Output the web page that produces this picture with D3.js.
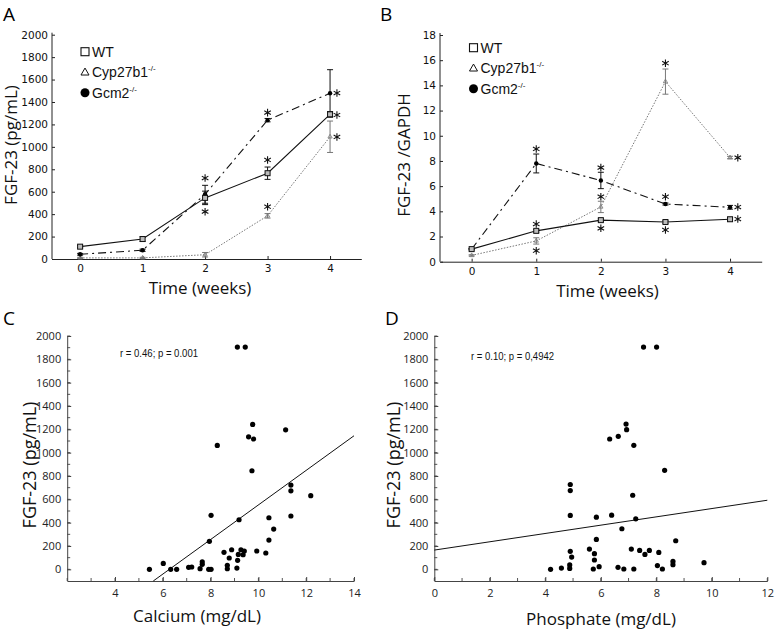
<!DOCTYPE html>
<html><head><meta charset="utf-8">
<script src="https://cdn.jsdelivr.net/npm/d3@7"></script>
<style>body{margin:0;background:#fff}</style>
</head><body><svg id="c" width="777" height="630"></svg>
<script>
// ---------- DATA ----------
const weeks = [0, 1, 2, 3, 4];
const legendNames = ["WT", "Cyp27b1", "Gcm2"];

// Panel A: FGF-23 (pg/mL)
const aWT   = [110, 178, 545, 765, 1290];
const aWTe  = [10, 20, 60, 55, 25];
const aCyp  = [10, 10, 38, 385, 1090];
const aCype = [5, 5, 20, 20, 140];
const aGcm  = [42, 78, 577, 1238, 1478];
const aGcme = [8, 10, 80, 15, 210];
const aStars = [[2, 722], [2, 422], [3, 883], [3, 466], [3, 1305], [4.11, 1480], [4.11, 1284], [4.11, 1088]];
const aYTicks = [0, 200, 400, 600, 800, 1000, 1200, 1400, 1600, 1800, 2000];

// Panel B: FGF-23 / GAPDH
const bWT   = [1.0, 2.45, 3.3, 3.15, 3.37];
const bWTe  = [0.05, 0.1, 0.1, 0.1, 0.15];
const bCyp  = [0.5, 1.65, 4.35, 14.3, 8.27];
const bCype = [0.05, 0.25, 0.45, 1.0, 0.1];
const bGcm  = [1.0, 7.8, 6.45, 4.58, 4.32];
const bGcme = [0.05, 0.75, 0.65, 0.08, 0.15];
const bStars = [[1, 8.95], [1, 2.99], [1, 0.87], [2, 7.47], [2, 5.16], [2, 2.65], [3, 15.76], [3, 5.16], [3, 2.52], [4.12, 8.26], [4.12, 4.34], [4.12, 3.39]];
const bYTicks = [0, 2, 4, 6, 8, 10, 12, 14, 16, 18];

// Panel C: Calcium vs FGF-23
const calcium = [5.44, 6.02, 6.33, 6.58, 7.08, 7.21, 7.56, 7.65, 7.65, 7.92, 8.02, 7.95, 8.02, 9.19, 8.56, 8.88, 8.78, 8.70, 8.70, 9.10, 9.13, 9.16, 9.27, 9.36, 9.41, 9.93, 10.31, 10.44, 10.64, 10.44, 11.36,
                 9.12, 9.45, 9.76, 11.14, 9.59, 9.80, 8.28, 9.73, 11.36, 11.36, 12.19];
const fgfC    = [0, 51, 0, 0, 17, 20, 6, 43, 65, 0, 0, 240, 463, 425, 146, 168, 97, 34, 5, 11, 77, 128, 168, 125, 157, 157, 140, 251, 345, 442, 457,
                 1905, 1905, 1242, 1196, 1136, 1117, 1062, 845, 722, 673, 631];
const regC = [148.2, -930];          // slope, intercept
const cXTicks = [4, 6, 8, 10, 12, 14];
const cYTicks = [0, 200, 400, 600, 800, 1000, 1200, 1400, 1600, 1800, 2000];
const cText = "r = 0.46; p = 0.001";

// Panel D: Phosphate vs FGF-23
const phosphate = [4.19, 4.58, 4.88, 4.88, 4.90, 4.95, 4.90, 5.59, 5.77, 5.77, 5.73, 5.84, 5.84, 5.94, 6.39, 6.62, 6.76, 6.83, 7.10, 7.19, 7.26, 7.40, 7.59, 7.75, 8.09, 8.04, 8.22, 8.60, 8.60, 8.70, 9.72,
                   7.54, 8.01, 6.91, 6.93, 6.63, 6.32, 7.19, 8.30, 4.90, 4.90, 7.15];
const fgfD      = [0, 11, 8, 38, 154, 105, 462, 174, 134, 80, 3, 256, 447, 23, 464, 17, 348, 3, 174, 3, 433, 162, 128, 162, 145, 32, 3, 68, 40, 245, 57,
                   1905, 1905, 1245, 1197, 1140, 1117, 1063, 849, 727, 675, 635];
const regD = [35.6, 165];
const dXTicks = [0, 2, 4, 6, 8, 10, 12];
const dYTicks = cYTicks;
const dText = "r = 0.10; p = 0,4942";

// ---------- DRAW ----------
const svg = d3.select("#c");
const LBL = "'Open Sans', sans-serif";
const TICK = "'DejaVu Sans', sans-serif";
const ARIAL = "'Liberation Sans', Arial, sans-serif";

function panelLetter(t, x, y) {
  svg.append("text").attr("x", x).attr("y", y).text(t)
    .attr("font-family", LBL).attr("font-size", 19).attr("fill", "#000");
}

function linePanel(o) {
  const g = svg.append("g");
  const x = d3.scaleLinear().domain(o.xd).range(o.xr);
  const y = d3.scaleLinear().domain(o.yd).range(o.yr);
  const xa = d3.axisBottom(x).tickValues(weeks).tickSizeInner(-3).tickSizeOuter(0).tickPadding(o.xpad).tickFormat(d3.format("d"));
  const ya = d3.axisLeft(y).tickValues(o.yticks).tickSizeInner(-3).tickSizeOuter(0).tickPadding(4).tickFormat(d3.format("d"));
  const gx = g.append("g").attr("transform", `translate(0,${o.yr[0]})`).call(xa);
  const gy = g.append("g").attr("transform", `translate(${o.xr[0]},0)`).call(ya);
  [gx, gy].forEach(a => {
    a.selectAll("text").attr("font-family", TICK).attr("font-size", 10.5).attr("fill", "#111");
    a.selectAll("line,path").attr("stroke", "#222").attr("stroke-width", 1);
  });
  gy.select(".domain").attr("d", `M0,${o.yr[0]}V${o.yr[1] - 2}`);
  const series = [
    {v: o.cyp, e: o.cype, stroke: "#777", dash: "1.5,1.5", mark: "tri"},
    {v: o.gcm, e: o.gcme, stroke: "#111", dash: "8,4,2,4", mark: "circ"},
    {v: o.wt,  e: o.wte,  stroke: "#111", dash: null, mark: "sq"}
  ];
  const line = d3.line().x((d, i) => x(weeks[i])).y(d => y(d));
  series.forEach(s => {
    g.append("path").attr("d", line(s.v)).attr("fill", "none").attr("stroke", s.stroke)
      .attr("stroke-width", s.mark === "tri" ? 1 : 1.1).attr("stroke-dasharray", s.dash);
    s.v.forEach((v, i) => {
      const cx = x(weeks[i]), y1 = y(v + s.e[i]), y2 = y(v - s.e[i]);
      g.append("line").attr("x1", cx).attr("x2", cx).attr("y1", y1).attr("y2", y2).attr("stroke", s.stroke).attr("stroke-width", 1);
      [y1, y2].forEach(yy => g.append("line").attr("x1", cx - 3).attr("x2", cx + 3).attr("y1", yy).attr("y2", yy).attr("stroke", s.stroke).attr("stroke-width", 1));
    });
    s.v.forEach((v, i) => {
      const cx = x(weeks[i]), cy = y(v);
      if (s.mark === "sq") g.append("rect").attr("x", cx - 2.5).attr("y", cy - 2.5).attr("width", 5).attr("height", 5).attr("fill", "#bbb").attr("stroke", "#111").attr("stroke-width", 1);
      else if (s.mark === "circ") g.append("circle").attr("cx", cx).attr("cy", cy).attr("r", 2.2).attr("fill", "#000");
      else g.append("path").attr("transform", `translate(${cx},${cy})`).attr("d", d3.symbol(d3.symbolTriangle, 8)()).attr("fill", "none").attr("stroke", "#777").attr("stroke-width", 0.8);
    });
  });
  o.stars.forEach(s => {
    g.append("path").attr("transform", `translate(${x(s[0])},${y(s[1])})`)
      .attr("d", d3.symbol(d3.symbolAsterisk, 40)()).attr("fill", "none").attr("stroke", "#111").attr("stroke-width", 1.1);
  });
  legendNames.forEach((n, i) => {
    const ly = o.leg[1] + i * 20.5;
    const lx = o.leg[0];
    if (i === 0) g.append("rect").attr("x", lx - 4).attr("y", ly - 4).attr("width", 8).attr("height", 8).attr("fill", "#fff").attr("stroke", "#111").attr("stroke-width", 1.1);
    else if (i === 1) g.append("path").attr("transform", `translate(${lx},${ly + 0.5})`).attr("d", d3.symbol(d3.symbolTriangle, 28)()).attr("fill", "#fff").attr("stroke", "#111").attr("stroke-width", 1);
    else g.append("circle").attr("cx", lx).attr("cy", ly).attr("r", 4.5).attr("fill", "#000");
    const t = g.append("text").attr("x", lx + 7).attr("y", ly + 5).attr("font-family", ARIAL).attr("font-size", 14).attr("fill", "#111").text(n);
    if (i > 0) t.append("tspan").attr("dy", -6).attr("font-size", 8).text("-/-");
  });
  g.append("text").attr("x", o.xlab[0]).attr("y", o.xlab[1]).attr("text-anchor", "middle")
    .attr("font-family", LBL).attr("font-size", 17).attr("fill", "#111").text("Time (weeks)");
  g.append("text").attr("transform", `translate(${o.ylab[0]},${o.ylab[1]}) rotate(-90)`).attr("text-anchor", "middle")
    .attr("font-family", LBL).attr("font-size", 17).attr("fill", "#111").text(o.ytitle);
}

function scatterPanel(o) {
  const g = svg.append("g");
  const x = d3.scaleLinear().domain(o.xd).range(o.xr);
  const y = d3.scaleLinear().domain(o.yd).range(o.yr);
  const xMinor = d3.range(Math.ceil(o.xd[0]), o.xd[1] + 0.01, 1);
  xMinor.forEach(v => g.append("line").attr("x1", x(v)).attr("x2", x(v)).attr("y1", o.yr[0]).attr("y2", o.yr[0] - 3).attr("stroke", "#555"));
  const yMinor = d3.range(0, o.yd[1] + 1, 100);
  yMinor.forEach(v => g.append("line").attr("x1", o.xr[0]).attr("x2", o.xr[0] + 3).attr("y1", y(v)).attr("y2", y(v)).attr("stroke", "#555"));
  const xa = d3.axisBottom(x).tickValues(o.xticks).tickSizeInner(-4).tickSizeOuter(0).tickPadding(8).tickFormat(d3.format("d"));
  const ya = d3.axisLeft(y).tickValues(o.yticks).tickSizeInner(-4).tickSizeOuter(0).tickPadding(6).tickFormat(d3.format("d"));
  const gx = g.append("g").attr("transform", `translate(0,${o.yr[0]})`).call(xa);
  const gy = g.append("g").attr("transform", `translate(${o.xr[0]},0)`).call(ya);
  [gx, gy].forEach(a => {
    a.selectAll("text").attr("font-family", LBL).attr("font-size", 11).attr("fill", "#222");
    a.selectAll("line,path").attr("stroke", "#444").attr("stroke-width", 1);
  });
  const x0 = Math.max(o.xd[0], (o.yd[0] - o.reg[1]) / o.reg[0]);
  const x1 = o.xd[1];
  g.append("line").attr("x1", x(x0)).attr("y1", y(o.reg[0] * x0 + o.reg[1]))
    .attr("x2", x(x1)).attr("y2", y(o.reg[0] * x1 + o.reg[1])).attr("stroke", "#111").attr("stroke-width", 1);
  o.xs.forEach((v, i) => g.append("circle").attr("cx", x(v)).attr("cy", y(o.ys[i])).attr("r", 2.6).attr("fill", "#000"));
  g.append("text").attr("x", o.txt[0]).attr("y", o.txt[1]).attr("font-family", ARIAL).attr("font-size", 11.5)
    .attr("textLength", o.txt[2]).attr("lengthAdjust", "spacingAndGlyphs").attr("fill", "#111").text(o.text);
  g.append("text").attr("x", o.xlab[0]).attr("y", o.xlab[1]).attr("text-anchor", "middle")
    .attr("font-family", LBL).attr("font-size", 17).attr("fill", "#111").text(o.xtitle);
  g.append("text").attr("transform", `translate(${o.ylab[0]},${o.ylab[1]}) rotate(-90)`).attr("text-anchor", "middle")
    .attr("font-family", LBL).attr("font-size", 18).attr("fill", "#111").text("FGF-23 (pg/mL)");
}

linePanel({xd: [-0.45, 4.5], xr: [52, 361.3], yd: [0, 2000], yr: [259, 34.7], yticks: aYTicks, xpad: 6,
  wt: aWT, wte: aWTe, cyp: aCyp, cype: aCype, gcm: aGcm, gcme: aGcme, stars: aStars,
  leg: [85, 51.7], xlab: [200, 294], ylab: [17, 145], ytitle: "FGF-23 (pg/mL)"});
linePanel({xd: [-0.49, 4.49], xr: [440, 761.7], yd: [0, 18], yr: [261.7, 35], yticks: bYTicks, xpad: 6,
  wt: bWT, wte: bWTe, cyp: bCyp, cype: bCype, gcm: bGcm, gcme: bGcme, stars: bStars,
  leg: [473.5, 47.7], xlab: [607.5, 297], ylab: [410, 155], ytitle: "FGF-23 /GAPDH"});
scatterPanel({xd: [2, 14], xr: [67.2, 354], yd: [-100, 2000], yr: [581, 336], xticks: cXTicks, yticks: cYTicks,
  xs: calcium, ys: fgfC, reg: regC, text: cText, txt: [120, 356.5, 78],
  xlab: [197, 622], xtitle: "Calcium (mg/dL)", ylab: [36, 465]});
scatterPanel({xd: [0, 12], xr: [434.3, 767.3], yd: [-100, 2000], yr: [581, 336], xticks: dXTicks, yticks: dYTicks,
  xs: phosphate, ys: fgfD, reg: regD, text: dText, txt: [471, 359.5, 83],
  xlab: [601, 625], xtitle: "Phosphate (mg/dL)", ylab: [400, 465]});

panelLetter("A", 3, 21);
panelLetter("B", 380, 21);
panelLetter("C", 3, 325);
panelLetter("D", 385, 325);
</script></body></html>
